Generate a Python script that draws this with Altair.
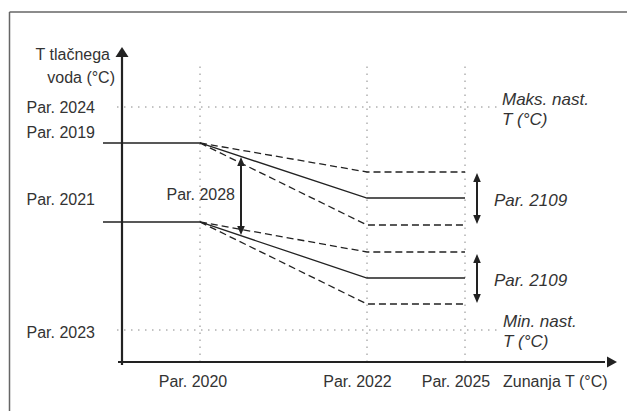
import altair as alt
import pandas as pd

FONT = "Liberation Sans, Arial, Helvetica, sans-serif"
INK = "#222222"
TXT = "#333333"

# ---- schematic values (arbitrary units: outside temp on x, flow temp on y) ----
x_tick_labels = ["Par. 2020", "Par. 2022", "Par. 2025"]
x_tick_pos = [7.8, 24.5, 34.3]
x_label_pos = [7.1, 23.55, 33.4]

y_tick_labels = ["Par. 2024", "Par. 2019", "Par. 2021", "Par. 2023"]
y_label_base = [24.9, 22.4, 15.7, 2.4]

max_level = 25.5   # Par. 2024
min_level = 3.2    # Par. 2023

curve_x = [-1.9, 7.8, 24.5, 34.3]
upper_solid = [21.9, 21.9, 16.4, 16.4]
lower_solid = [14.0, 14.0, 8.4, 8.4]

dash_x = [7.8, 24.5, 34.3]
upper_dash_hi = [21.9, 19.0, 19.0]
upper_dash_lo = [21.9, 13.7, 13.7]
lower_dash_hi = [14.0, 11.0, 11.0]
lower_dash_lo = [14.0, 5.8, 5.8]

# double arrows: x, top tip, bottom tip
arrow_x = [11.9, 35.5, 35.5]
arrow_top = [20.5, 18.9, 10.8]
arrow_bot = [12.7, 13.8, 5.9]

X_DOM = [-11.4, 50.5]
Y_DOM = [-4.9, 35.4]
xs = alt.Scale(domain=X_DOM, nice=False, zero=False)
ys = alt.Scale(domain=Y_DOM, nice=False, zero=False)


def X(f="x"):
    return alt.X(f"{f}:Q", scale=xs, axis=None)


def Y(f="y"):
    return alt.Y(f"{f}:Q", scale=ys, axis=None)


layers = []

# frame (top and left edges)
frame = pd.DataFrame({"x": [-11.25, -11.25], "x2": [-11.25, 50.5],
                      "y": [-4.9, 35.0], "y2": [35.0, 35.0]})
layers.append(alt.Chart(frame).mark_rule(color="#666666", strokeWidth=1.5).encode(
    x=X(), x2="x2:Q", y=Y(), y2="y2:Q"))

# dotted guides
vguides = pd.DataFrame({"x": x_tick_pos, "y": [0] * 3, "y2": [30.0] * 3})
layers.append(alt.Chart(vguides).mark_rule(color="#888888", strokeWidth=1, strokeDash=[1.5, 5.5]).encode(
    x=X(), y=Y(), y2="y2:Q"))
hguides = pd.DataFrame({"y": [max_level, min_level], "x": [-0.5, -0.5], "x2": [37.6, 37.6]})
layers.append(alt.Chart(hguides).mark_rule(color="#888888", strokeWidth=1, strokeDash=[1.5, 5.5]).encode(
    x=X(), x2="x2:Q", y=Y()))

# curves
rows = []
for name, ys_ in [("upper", upper_solid), ("lower", lower_solid)]:
    for i, (xx, yy) in enumerate(zip(curve_x, ys_)):
        rows.append({"s": name, "o": i, "x": xx, "y": yy})
solid = pd.DataFrame(rows)
layers.append(alt.Chart(solid).mark_line(color=INK, strokeWidth=1.3).encode(
    x=X(), y=Y(), detail="s:N", order="o:Q"))

rows = []
for name, ys_ in [("uh", upper_dash_hi), ("ul", upper_dash_lo), ("lh", lower_dash_hi), ("ll", lower_dash_lo)]:
    for i, (xx, yy) in enumerate(zip(dash_x, ys_)):
        rows.append({"s": name, "o": i, "x": xx, "y": yy})
dashed = pd.DataFrame(rows)
layers.append(alt.Chart(dashed).mark_line(color=INK, strokeWidth=1.3, strokeDash=[7, 4]).encode(
    x=X(), y=Y(), detail="s:N", order="o:Q"))

# axes
axes = pd.DataFrame({"x": [0, -0.4], "x2": [0, 48.3], "y": [-0.3, 0], "y2": [30.6, 0]})
layers.append(alt.Chart(axes).mark_rule(color=INK, strokeWidth=2.2).encode(
    x=X(), x2="x2:Q", y=Y(), y2="y2:Q"))
up_head = pd.DataFrame({"x": [0], "y": [31.0]})
layers.append(alt.Chart(up_head).mark_point(shape="M0,-1L-1.3,1L1.3,1Z", size=100, filled=True,
                                            color=INK, opacity=1).encode(x=X(), y=Y()))
right_head = pd.DataFrame({"x": [49.0], "y": [0]})
layers.append(alt.Chart(right_head).mark_point(shape="M1,0L-1,-1.1L-1,1.1Z", size=100, filled=True,
                                               color=INK, opacity=1).encode(x=X(), y=Y()))

# double arrows
arr = pd.DataFrame({"x": arrow_x, "top": arrow_top, "bot": arrow_bot})
arr["t_c"] = arr["top"] - 0.45
arr["b_c"] = arr["bot"] + 0.45
layers.append(alt.Chart(arr).mark_rule(color=INK, strokeWidth=2).encode(
    x=X(), y=Y("t_c"), y2="b_c:Q"))
layers.append(alt.Chart(arr).mark_point(shape="M0,-1L-0.85,1L0.85,1Z", size=81, filled=True,
                                        color=INK, opacity=1).encode(x=X(), y=Y("t_c")))
layers.append(alt.Chart(arr).mark_point(shape="M0,1L-0.85,-1L0.85,-1Z", size=81, filled=True,
                                        color=INK, opacity=1).encode(x=X(), y=Y("b_c")))

# text: left labels (right aligned)
left_txt = pd.DataFrame({
    "t": ["T tlačnega", "voda (°C)"] + y_tick_labels + ["Par. 2028"],
    "x": [-1.2, -0.7] + [-2.7] * 4 + [11.3],
    "y": [30.2, 27.9] + y_label_base + [16.2],
})
layers.append(alt.Chart(left_txt).mark_text(align="right", baseline="alphabetic", font=FONT,
                                            fontSize=16, color=TXT).encode(x=X(), y=Y(), text="t:N"))

# x tick labels
bottom_txt = pd.DataFrame({"t": x_tick_labels, "x": x_label_pos, "y": [-2.5] * 3})
layers.append(alt.Chart(bottom_txt).mark_text(align="center", baseline="alphabetic", font=FONT,
                                              fontSize=16, color=TXT).encode(x=X(), y=Y(), text="t:N"))
xtitle = pd.DataFrame({"t": ["Zunanja T (°C)"], "x": [38.1], "y": [-2.5]})
layers.append(alt.Chart(xtitle).mark_text(align="left", baseline="alphabetic", font=FONT,
                                          fontSize=16, color=TXT).encode(x=X(), y=Y(), text="t:N"))

# italic annotations
ital = pd.DataFrame({
    "t": ["Maks. nast.", "T (°C)", "Par. 2109", "Par. 2109", "Min. nast.", "T (°C)"],
    "x": [38.0, 38.0, 37.2, 37.2, 38.1, 38.1],
    "y": [25.7, 23.7, 15.6, 7.6, 3.5, 1.5],
})
layers.append(alt.Chart(ital).mark_text(align="left", baseline="alphabetic", font=FONT,
                                        fontSize=17, fontStyle="italic", color=TXT).encode(
    x=X(), y=Y(), text="t:N"))

chart = alt.layer(*layers).properties(
    width=619, height=403, padding=0,
    autosize=alt.AutoSizeParams(type="none"),
).configure_view(stroke=None)

chart.save("out.html", embed_options={"renderer": "svg", "actions": False})
